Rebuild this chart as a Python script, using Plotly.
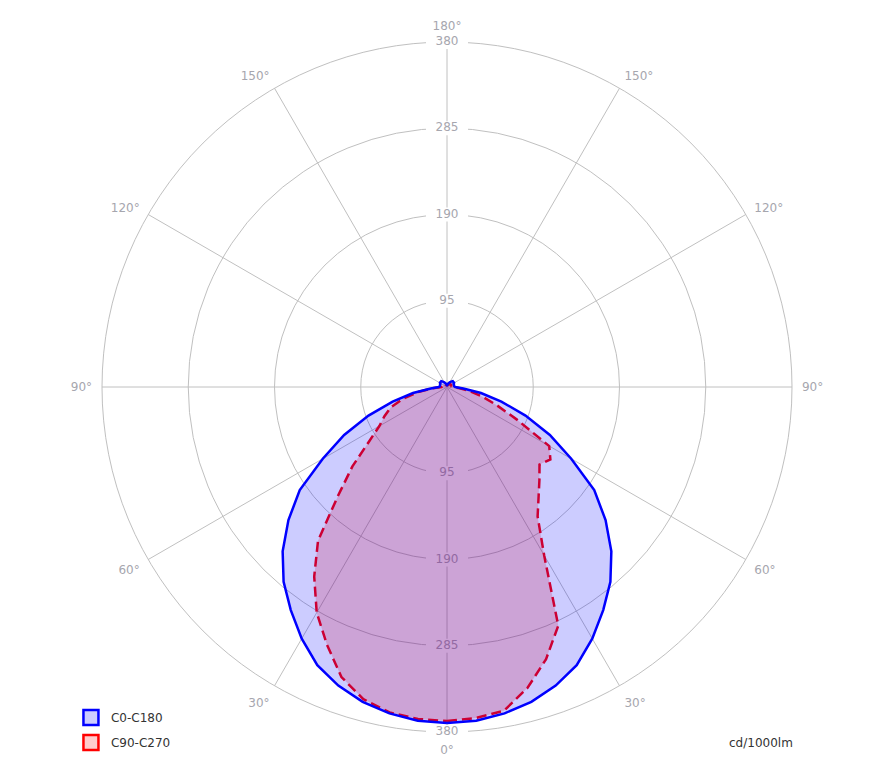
import plotly.graph_objects as go

# ---- data ----
gamma = [0, 5, 10, 15, 20, 25, 30, 35, 40, 45, 50, 55, 60, 65, 70, 75, 80, 85, 90,
         95, 100, 105, 110, 115, 120, 125, 130, 135, 140, 145, 150, 155, 160, 165, 170, 175, 180]

c0 = [370, 369, 365, 359, 350, 338, 320, 300, 280, 256, 228, 198, 158, 125, 92, 62, 38, 18, 9,
      8, 8, 8, 8, 8, 9, 9, 9, 9, 8, 7, 6, 5, 4, 3, 3, 2, 2]
c180 = [370, 369, 365, 359, 350, 338, 320, 300, 280, 256, 228, 198, 158, 125, 92, 62, 38, 18, 9,
        8, 8, 8, 8, 8, 9, 9, 9, 9, 8, 7, 6, 5, 4, 3, 3, 2, 2]
c90 = [368, 366, 362, 343, 319, 290, 214, 174, 157, 144, 133, 139, 130, 85, 58, 40, 25, 13, 6,
       5, 5, 5, 5, 5, 5, 5, 5, 5, 4, 4, 4, 3, 3, 3, 2, 2, 2]
c270 = [368, 367, 364, 356, 340, 313, 287, 255, 221, 170, 136, 105, 86, 76, 66, 50, 33, 16, 6,
        5, 5, 5, 5, 5, 5, 5, 5, 5, 4, 4, 4, 3, 3, 3, 2, 2, 2]

radial_ticks = [95, 190, 285, 380]
angle_ticks = [0, 30, 60, 90, 120, 150, 180, 210, 240, 270, 300, 330]
angle_labels = ["0°", "30°", "60°", "90°", "120°", "150°", "180°",
                "150°", "120°", "90°", "60°", "30°"]
unit_label = "cd/1000lm"

# ---- build closed curves: right half = gamma, left half = 360 - gamma ----
theta_full = gamma + [360 - g for g in reversed(gamma)]
blue_r = c0 + list(reversed(c180))
red_r = c90 + list(reversed(c270))

grid = "#c0c0c0"
label_col = "#a6a6ae"

fig = go.Figure()

# white gaps behind radial labels (drawn before fills)
lab_r = radial_ticks + radial_ticks
lab_t = [180] * len(radial_ticks) + [0] * len(radial_ticks)
lab_txt = [str(v) for v in radial_ticks] * 2
fig.add_trace(go.Scatterpolar(
    r=lab_r, theta=lab_t, mode="markers",
    marker=dict(symbol="line-ew", size=30, color="white",
                line=dict(width=14, color="white")),
    showlegend=False, hoverinfo="skip"))
fig.add_trace(go.Scatterpolar(
    r=lab_r, theta=lab_t, mode="text", text=lab_txt,
    textfont=dict(family="DejaVu Sans", size=12, color=label_col),
    textposition="middle center", showlegend=False, hoverinfo="skip"))

# red C90-C270 (below blue)
fig.add_trace(go.Scatterpolar(
    r=red_r, theta=theta_full, mode="lines", fill="toself",
    fillcolor="rgba(255,0,0,0.2)",
    line=dict(color="#ff0000", width=2.5, dash="10px,5px"),
    showlegend=False, hoverinfo="skip"))
# blue C0-C180
fig.add_trace(go.Scatterpolar(
    r=blue_r, theta=theta_full, mode="lines", fill="toself",
    fillcolor="rgba(0,0,255,0.2)",
    line=dict(color="#0000ff", width=2.5),
    showlegend=False, hoverinfo="skip"))

# legend entries
fig.add_trace(go.Scatterpolar(
    r=[None], theta=[None], mode="markers", name="C0-C180", legendgroup="a",
    marker=dict(symbol="square", size=15, color="#ccccff",
                line=dict(color="#0000ff", width=2.5))))
fig.add_trace(go.Scatterpolar(
    r=[None], theta=[None], mode="markers", name="C90-C270", legendgroup="b",
    marker=dict(symbol="square", size=15, color="#ffcccc",
                line=dict(color="#ff0000", width=2.5))))

fig.update_layout(
    width=876, height=775,
    margin=dict(l=94, r=92, t=34, b=51, autoexpand=False),
    paper_bgcolor="white",
    font=dict(family="DejaVu Sans", size=12, color="#333333"),
    polar=dict(
        bgcolor="white",
        domain=dict(x=[0, 1], y=[0, 1]),
        radialaxis=dict(range=[0, 380], tickvals=radial_ticks, showticklabels=False,
                        ticks="", showline=False, gridcolor=grid, gridwidth=1,
                        layer="below traces"),
        angularaxis=dict(rotation=270, direction="counterclockwise",
                         tickmode="array", tickvals=angle_ticks, ticktext=angle_labels,
                         ticks="outside", ticklen=7, tickcolor="rgba(0,0,0,0)",
                         showline=True, linecolor=grid, linewidth=1,
                         gridcolor=grid, gridwidth=1, layer="below traces",
                         tickfont=dict(family="DejaVu Sans", size=12, color=label_col)),
    ),
    showlegend=True,
    legend=dict(x=-0.045, y=0.042, xanchor="left", yanchor="top",
                font=dict(family="DejaVu Sans", size=12, color="#333333"),
                tracegroupgap=6, bgcolor="rgba(0,0,0,0)"),
    annotations=[dict(text=unit_label, xref="paper", yref="paper", x=1.004, y=-0.016,
                      xanchor="right", yanchor="middle", showarrow=False,
                      font=dict(family="DejaVu Sans", size=12, color="#333333"))],
)

fig.write_html("out.html")
